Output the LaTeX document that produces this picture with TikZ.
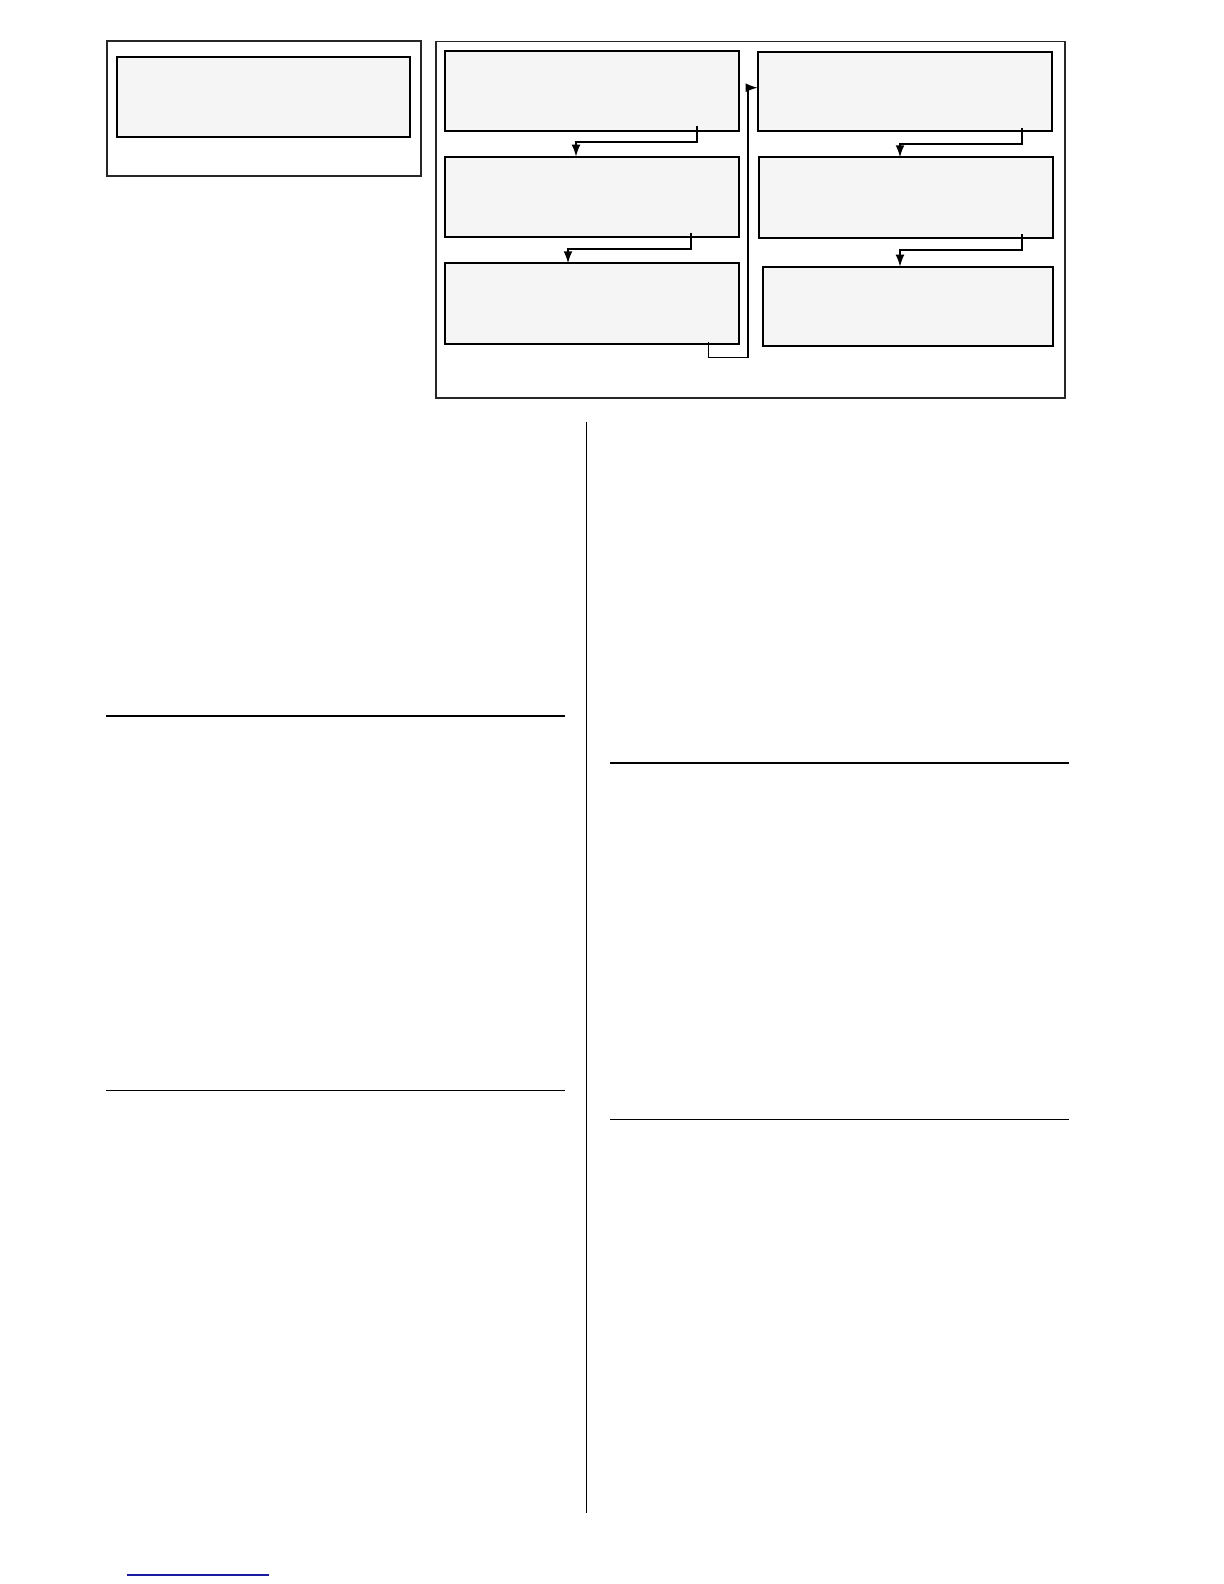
\documentclass[tikz,border=0pt]{standalone}
\usetikzlibrary{arrows.meta}
\definecolor{boxfill}{HTML}{F5F5F5}
\definecolor{linkblue}{HTML}{1A1AA0}
\begin{document}
\begin{tikzpicture}[x=0.5pt,y=-0.5pt,
  frame/.style={draw=black!85,line width=0.7pt},
  stepbox/.style={draw=black,fill=boxfill,line width=0.85pt},
  conn/.style={draw=black,line width=0.75pt,-{Latex[length=6pt,width=4.4pt]}},
  rule/.style={draw=black,line width=1pt},
  thinrule/.style={draw=black,line width=0.55pt}]
\useasboundingbox (0,0) rectangle (1224,1584);
\fill[white] (0,0) rectangle (1224,1584);
% outer frames
\path[frame] (107,41) rectangle (421,176);
\path[frame] (436,41.5) rectangle (1065,398);
% boxes
\node[stepbox,inner sep=0,outer sep=0,anchor=north west,minimum width=146.5pt,minimum height=40pt] (L) at (117,57) {};
\node[stepbox,inner sep=0,outer sep=0,anchor=north west,minimum width=147.15pt,minimum height=40pt] (A1) at (444.7,50.7) {};
\node[stepbox,inner sep=0,outer sep=0,anchor=north west,minimum width=147.15pt,minimum height=40pt] (A2) at (444.7,156.7) {};
\node[stepbox,inner sep=0,outer sep=0,anchor=north west,minimum width=147.15pt,minimum height=40.35pt] (A3) at (444.7,263.3) {};
\node[stepbox,inner sep=0,outer sep=0,anchor=north west,minimum width=147.15pt,minimum height=39.5pt] (B1) at (757.7,51.7) {};
\node[stepbox,inner sep=0,outer sep=0,anchor=north west,minimum width=147.15pt,minimum height=40.35pt] (B2) at (758.7,157.3) {};
\node[stepbox,inner sep=0,outer sep=0,anchor=north west,minimum width=145.15pt,minimum height=39.5pt] (B3) at (762.7,266.7) {};
% connector start points
\coordinate (a1o) at (697,126);
\coordinate (a2o) at (691,232.7);
\coordinate (a3o) at (708.7,341.7);
\coordinate (b1o) at (1022,128);
\coordinate (b2o) at (1022,234);
% connectors
\draw[conn] (a1o) |- (576,142) -- (576,142 |- A2.north);
\draw[conn] (a2o) |- (568,249) -- (568,249 |- A3.north);
\draw[conn] (a3o) |- (748,357.5) -- (748,87.7) -- (748,87.7 -| B1.west);
\draw[conn] (b1o) |- (900,144) -- (900,144 |- B2.north);
\draw[conn] (b2o) |- (900,250) -- (900,250 |- B3.north);
% page rules
\draw[draw=black,line width=0.9pt] (586.5,421.7) -- (586.5,1513.3);
\draw[rule] (106,715.7) -- (565,715.7);
\draw[thinrule] (106,1090.3) -- (565,1090.3);
\draw[rule] (610,763.3) -- (1069,763.3);
\draw[thinrule] (610,1119.3) -- (1069,1119.3);
\draw[draw=linkblue,line width=0.6pt] (127,1575) -- (269,1575);
\end{tikzpicture}
\end{document}
